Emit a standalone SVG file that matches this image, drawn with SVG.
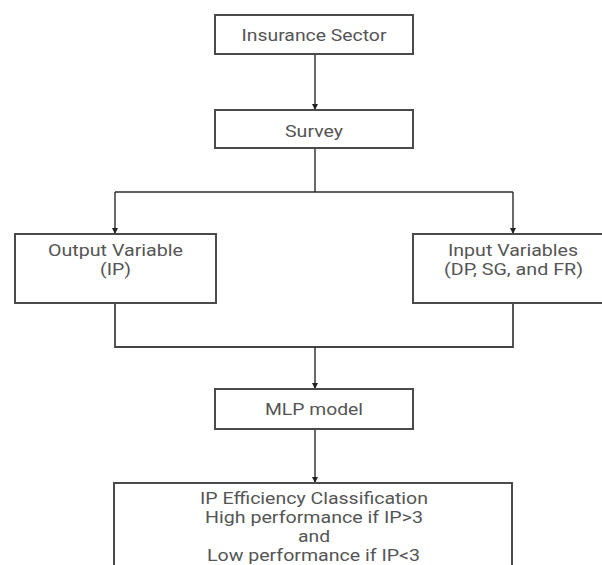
<svg xmlns="http://www.w3.org/2000/svg" width="602" height="565" viewBox="0 0 602 565">
<defs>
<marker id="arr" viewBox="0 0 8 8" refX="8" refY="4" markerWidth="6" markerHeight="6" markerUnits="userSpaceOnUse" orient="auto">
<path d="M0,0 L8,4 L0,8 z" fill="#222"/>
</marker>
</defs>
<style>
.box{fill:#fff;stroke:#4a4a4a;stroke-width:2}
.t{font-family:Roboto,"Liberation Sans",sans-serif;font-size:17px;fill:#555;text-anchor:middle}
.s{font-size:16px}
.c{fill:none;stroke:#2a2a2a;stroke-width:1.4}
</style>
<rect width="602" height="565" fill="#fff"/>
<g id="connectors">
<path class="c" d="M315,54 V110" marker-end="url(#arr)"/>
<path class="c" d="M315,148 V192"/>
<path class="c" d="M115,192 H513"/>
<path class="c" d="M115,192 V234" marker-end="url(#arr)"/>
<path class="c" d="M513,192 V234" marker-end="url(#arr)"/>
<path class="c" d="M115,303 V347 H513 V303" style="stroke:#444;stroke-width:1.8"/>
<path class="c" d="M315,347 V389" marker-end="url(#arr)"/>
<path class="c" d="M315,429 V483" marker-end="url(#arr)"/>
</g>
<g id="insurance-sector">
<rect class="box" x="215" y="15" width="198" height="39"/>
<text class="t" x="314" y="41" textLength="145" lengthAdjust="spacingAndGlyphs">Insurance Sector</text>
</g>
<g id="survey">
<rect class="box" x="215" y="110" width="198" height="38"/>
<text class="t" x="314" y="137" textLength="58" lengthAdjust="spacingAndGlyphs">Survey</text>
</g>
<g id="output-variable">
<rect class="box" x="15" y="234" width="201" height="69"/>
<text class="t" x="115.5" y="256" textLength="135" lengthAdjust="spacingAndGlyphs">Output Variable</text>
<text class="t" x="115.5" y="275" textLength="31" lengthAdjust="spacingAndGlyphs">(IP)</text>
</g>
<g id="input-variables">
<rect class="box" x="413" y="234" width="201" height="69"/>
<text class="t" x="513" y="256" textLength="130" lengthAdjust="spacingAndGlyphs">Input Variables</text>
<text class="t" x="513.5" y="275" textLength="139" lengthAdjust="spacingAndGlyphs">(DP, SG, and FR)</text>
</g>
<g id="mlp-model">
<rect class="box" x="215" y="389" width="198" height="40"/>
<text class="t" x="314" y="415" textLength="98" lengthAdjust="spacingAndGlyphs">MLP model</text>
</g>
<g id="ip-efficiency-classification">
<rect class="box" x="114" y="483" width="398" height="100"/>
<text class="t s" x="314" y="503.5" textLength="228" lengthAdjust="spacingAndGlyphs">IP Efficiency Classification</text>
<text class="t s" x="314" y="522.5" textLength="218" lengthAdjust="spacingAndGlyphs">High performance if IP&gt;3</text>
<text class="t s" x="314" y="541.5" textLength="32" lengthAdjust="spacingAndGlyphs">and</text>
<text class="t s" x="313.5" y="560.5" textLength="213" lengthAdjust="spacingAndGlyphs">Low performance if IP&lt;3</text>
</g>
</svg>
